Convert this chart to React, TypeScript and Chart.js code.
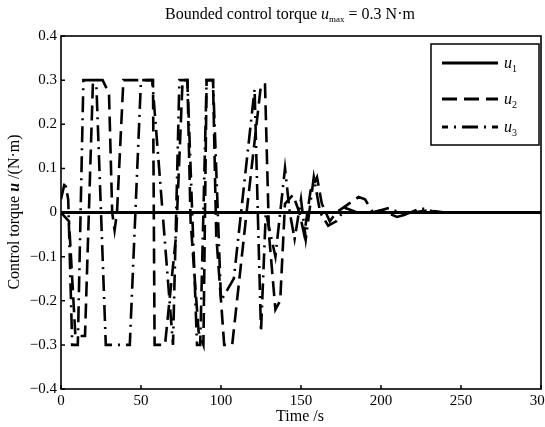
import { useEffect, useRef } from "react";
import { Chart, registerables } from "chart.js";

Chart.register(...registerables);

// ---- data (time in s, torque in N·m) ----
const u1Time = [0, 50, 100, 150, 200, 250, 300];
const u1Value = [0, 0, 0, 0, 0, 0, 0];

const u2Time = [0, 5, 9, 15, 20, 26, 30, 32, 33.5, 35, 39, 57.5, 58.5, 65, 72, 76, 79, 81, 86, 89, 91, 95, 97, 102, 107, 116, 125, 127.5, 130, 134, 137, 140, 145, 149, 152, 156, 160, 163, 168, 172, 176, 180, 186, 190, 195, 200, 210, 220, 230, 240, 300];
const u2Value = [0, -0.02, -0.28, -0.28, 0.3, 0.3, 0.27, 0.0, -0.04, 0.0, 0.3, 0.3, -0.3, -0.3, -0.05, 0.3, 0.3, -0.02, -0.27, -0.3, 0.3, 0.3, -0.05, -0.3, -0.3, 0.0, 0.29, 0.29, -0.05, -0.22, -0.2, 0.02, 0.04, 0.0, -0.05, 0.05, 0.08, 0.02, -0.02, 0.0, 0.01, 0.02, 0.035, 0.03, 0.0, 0.005, -0.01, 0.0, 0.005, 0.0, 0];

const u3Time = [0, 2.5, 4.5, 7, 10.5, 14, 22, 28, 43, 50, 57, 70, 74, 79, 85, 87, 91, 95, 100, 108, 121, 123, 125, 128, 134, 140, 143, 146, 150, 153, 158, 162, 167, 172, 178, 185, 195, 205, 215, 225, 235, 300];
const u3Value = [0.03, 0.07, 0.03, -0.3, -0.3, 0.3, 0.3, -0.3, -0.3, 0.3, 0.3, -0.3, 0.3, 0.3, -0.3, -0.3, 0.3, 0.3, -0.2, -0.15, 0.28, 0.0, -0.27, 0.0, -0.1, 0.1, 0.0, -0.06, 0.03, -0.06, 0.08, 0.0, -0.03, -0.02, 0.01, 0.0, 0.0, 0.01, -0.005, 0.01, 0.0, 0];

const xTicks = [0, 50, 100, 150, 200, 250, 300];
const yTicks = [-0.4, -0.3, -0.2, -0.1, 0, 0.1, 0.2, 0.3, 0.4];

const SERIF = '"Liberation Serif", "DejaVu Serif", serif';
const DASH2 = [15, 7];
const DASH3 = [16, 6, 2, 6];

type Part = { text: string; font: string; dy?: number };

function drawRich(ctx: CanvasRenderingContext2D, parts: Part[], x: number, y: number, align: "center" | "left") {
  let total = 0;
  for (const p of parts) {
    ctx.font = p.font;
    total += ctx.measureText(p.text).width;
  }
  let cx = align === "center" ? x - total / 2 : x;
  ctx.textBaseline = "middle";
  ctx.textAlign = "left";
  for (const p of parts) {
    ctx.font = p.font;
    ctx.fillText(p.text, cx, y + (p.dy || 0));
    cx += ctx.measureText(p.text).width;
  }
}

const decorPlugin = {
  id: "decor",
  afterDatasetsDraw(chart: any) {
    const ctx: CanvasRenderingContext2D = chart.ctx;
    const { left, right, top, bottom } = chart.chartArea;
    const xs = chart.scales.x;
    const ys = chart.scales.y;
    ctx.save();
    ctx.strokeStyle = "#000";
    ctx.fillStyle = "#000";
    ctx.lineWidth = 1.5;
    ctx.setLineDash([]);
    ctx.beginPath();
    for (const t of xTicks) {
      const px = xs.getPixelForValue(t);
      ctx.moveTo(px, bottom);
      ctx.lineTo(px, bottom - 4);
    }
    for (const t of yTicks) {
      const py = ys.getPixelForValue(t);
      ctx.moveTo(left, py);
      ctx.lineTo(left + 4, py);
    }
    ctx.stroke();
    ctx.lineWidth = 1.6;
    ctx.strokeRect(left, top, right - left, bottom - top);

    // legend
    const bx = 431, by = 44, bw = 108, bh = 101;
    ctx.fillStyle = "#fff";
    ctx.fillRect(bx, by, bw, bh);
    ctx.strokeStyle = "#000";
    ctx.lineWidth = 1.5;
    ctx.strokeRect(bx, by, bw, bh);
    const rows = [
      { y: 63, dash: [] as number[], offset: 0, sub: "1" },
      { y: 99, dash: DASH2, offset: 0, sub: "2" },
      { y: 127, dash: DASH3, offset: 10, sub: "3" },
    ];
    for (const r of rows) {
      ctx.beginPath();
      ctx.lineWidth = 3;
      ctx.setLineDash(r.dash);
      ctx.lineDashOffset = r.offset;
      ctx.moveTo(442, r.y);
      ctx.lineTo(498, r.y);
      ctx.stroke();
      ctx.setLineDash([]);
      ctx.lineDashOffset = 0;
      ctx.fillStyle = "#000";
      drawRich(
        ctx,
        [
          { text: "u", font: `italic 16px ${SERIF}` },
          { text: r.sub, font: `10px ${SERIF}`, dy: 5 },
        ],
        504,
        r.y + 1,
        "left"
      );
    }
    ctx.restore();
  },
  afterDraw(chart: any) {
    const ctx: CanvasRenderingContext2D = chart.ctx;
    ctx.save();
    ctx.fillStyle = "#000";
    drawRich(
      ctx,
      [
        { text: "Bounded control torque ", font: `16px ${SERIF}` },
        { text: "u", font: `italic 16px ${SERIF}` },
        { text: "max", font: `9px ${SERIF}`, dy: 5 },
        { text: " = 0.3 N·m", font: `16px ${SERIF}` },
      ],
      290,
      15,
      "center"
    );
    drawRich(ctx, [{ text: "Time /s", font: `16px ${SERIF}` }], 300, 417, "center");
    ctx.translate(15, 212);
    ctx.rotate(-Math.PI / 2);
    drawRich(
      ctx,
      [
        { text: "Control torque ", font: `16px ${SERIF}` },
        { text: "u", font: `italic bold 16px ${SERIF}` },
        { text: " /(N·m)", font: `16px ${SERIF}` },
      ],
      0,
      0,
      "center"
    );
    ctx.restore();
  },
};

function toPoints(ts: number[], vs: number[]) {
  return ts.map((t, i) => ({ x: t, y: vs[i] }));
}

export default function App() {
  const ref = useRef<HTMLCanvasElement>(null);
  useEffect(() => {
    if (!ref.current) return;
    const chart = new Chart(ref.current, {
      type: "line",
      data: {
        datasets: [
          {
            label: "u1",
            data: toPoints(u1Time, u1Value),
            borderColor: "#000",
            borderWidth: 3,
            pointRadius: 0,
            tension: 0,
          },
          {
            label: "u2",
            data: toPoints(u2Time, u2Value),
            borderColor: "#000",
            borderWidth: 2.6,
            borderDash: DASH2,
            pointRadius: 0,
            tension: 0,
          },
          {
            label: "u3",
            data: toPoints(u3Time, u3Value),
            borderColor: "#000",
            borderWidth: 2.6,
            borderDash: DASH3,
            pointRadius: 0,
            tension: 0,
          },
        ],
      },
      options: {
        responsive: false,
        animation: false,
        parsing: false as any,
        layout: { padding: { top: 36, right: 4, left: 0, bottom: 0 }, autoPadding: false } as any,
        plugins: {
          legend: { display: false },
          tooltip: { enabled: false },
          title: { display: false },
        },
        scales: {
          x: {
            type: "linear",
            min: 0,
            max: 300,
            afterBuildTicks: (s: any) => {
              s.ticks = xTicks.map((v) => ({ value: v }));
            },
            afterFit: (s: any) => {
              s.height = 38;
              s.paddingLeft = 0;
              s.paddingRight = 0;
            },
            grid: { display: false, drawTicks: false },
            border: { display: false },
            ticks: {
              color: "#000",
              font: { family: SERIF, size: 15 },
              padding: 3,
              maxRotation: 0,
              autoSkip: false,
            },
          },
          y: {
            type: "linear",
            min: -0.4,
            max: 0.4,
            afterBuildTicks: (s: any) => {
              s.ticks = yTicks.map((v) => ({ value: v }));
            },
            afterFit: (s: any) => {
              s.width = 61;
              s.paddingTop = 0;
              s.paddingBottom = 0;
            },
            grid: { display: false, drawTicks: false },
            border: { display: false },
            ticks: {
              color: "#000",
              font: { family: SERIF, size: 15 },
              padding: 4,
              autoSkip: false,
              callback: (v: any) => {
                const n = Math.round(Number(v) * 10) / 10;
                if (n === 0) return "0";
                return n < 0 ? "\u2212" + Math.abs(n).toFixed(1) : n.toFixed(1);
              },
            },
          },
        },
      },
      plugins: [decorPlugin],
    });
    return () => chart.destroy();
  }, []);
  return (
    <canvas
      ref={ref}
      width={545}
      height={427}
      style={{ position: "fixed", left: 0, top: 0, display: "block", background: "#fff" }}
    />
  );
}
